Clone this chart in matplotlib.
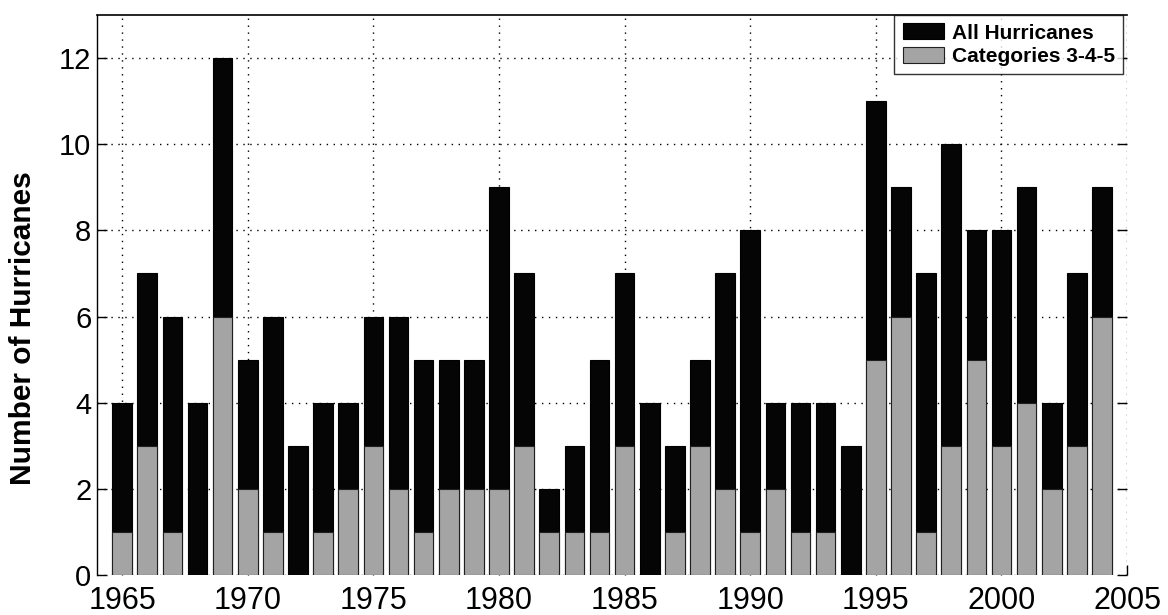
import matplotlib
matplotlib.use("Agg")
import matplotlib.pyplot as plt
import numpy as np

years = list(range(1965, 2005))
all_hurricanes = [4, 7, 6, 4, 12, 5, 6, 3, 4, 4,
                  6, 6, 5, 5, 5, 9, 7, 2, 3, 5,
                  7, 4, 3, 5, 7, 8, 4, 4, 4, 3,
                  11, 9, 7, 10, 8, 8, 9, 4, 7, 9]
major_hurricanes = [1, 3, 1, 0, 6, 2, 1, 0, 1, 2,
                    3, 2, 1, 2, 2, 2, 3, 1, 1, 1,
                    3, 0, 1, 3, 2, 1, 2, 1, 1, 0,
                    5, 6, 1, 3, 5, 3, 4, 2, 3, 6]
series_labels = ["All Hurricanes", "Categories 3-4-5"]
x_ticks = list(range(1965, 2010, 5))
y_ticks = list(range(0, 13, 2))

plt.rcParams['font.family'] = ['Liberation Sans', 'DejaVu Sans']

fig = plt.figure(figsize=(11.68, 6.15), dpi=100)
ax = fig.add_axes([0.083, 0.065, 0.882, 0.9106])

x = np.array(years)
bar_width = 0.78
ax.bar(x, all_hurricanes, width=bar_width, color='#050505',
       edgecolor='black', linewidth=0.8, label=series_labels[0], zorder=2)
ax.bar(x, major_hurricanes, width=bar_width, color='#a4a4a4',
       edgecolor='#202020', linewidth=0.8, label=series_labels[1], zorder=3)

ax.set_xlim(1964, 2005)
ax.set_ylim(0, 13)
ax.set_xticks(x_ticks)
ax.set_yticks(y_ticks)

# dotted grid sits behind the bars
ax.grid(True, color='black', linestyle=(0, (1, 4)), linewidth=1.0)
ax.set_axisbelow(True)

ax.tick_params(axis='both', direction='in', length=7, width=1.0,
               right=True, top=False)
ax.tick_params(axis='x', labelsize=22, pad=8)
ax.tick_params(axis='y', labelsize=21, pad=4)

ax.spines['right'].set_visible(False)
ax.spines['bottom'].set_visible(False)
ax.spines['left'].set_linewidth(1.0)
ax.spines['top'].set_linewidth(1.2)

ax.set_ylabel('Number of Hurricanes', fontsize=21.5, fontweight='bold')
ax.yaxis.set_label_coords(-0.058, 0.44)

leg = ax.legend(loc='upper right', bbox_to_anchor=(0.996, 1.0),
                borderaxespad=0, fancybox=False, frameon=True,
                prop={'size': 15, 'weight': 'bold'},
                handlelength=2.0, handleheight=0.8, handletextpad=0.35,
                labelspacing=0.2, borderpad=0.4)
leg.get_frame().set_edgecolor('black')
leg.get_frame().set_linewidth(1.0)

fig.savefig('out.png', dpi=100)
